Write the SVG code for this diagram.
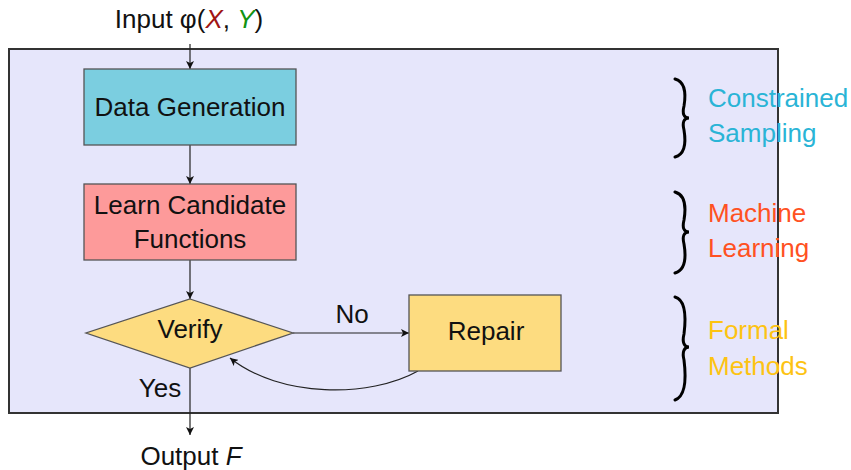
<svg xmlns="http://www.w3.org/2000/svg" width="851" height="470" viewBox="0 0 851 470">
  <style>
    text { font-family: "Liberation Sans", Arial, sans-serif; font-size: 26px; fill: #111; }
    .c { text-anchor: middle; }
    .box { stroke: #555; stroke-width: 1.3; }
    .edge { fill: none; stroke: #222; stroke-width: 1.2; }
    .brace { fill: none; stroke: #000; stroke-width: 3; stroke-linecap: round; }
  </style>
  <defs>
    <marker id="arr" viewBox="0 0 10 10" refX="10" refY="5" markerWidth="8" markerHeight="8" markerUnits="userSpaceOnUse" orient="auto">
      <path d="M0,0 L10,5 L0,10 L2.5,5 Z" fill="#111"/>
    </marker>
  </defs>

  <!-- enclosing frame -->
  <rect x="9" y="49" width="769" height="364" fill="#e6e6fb" stroke="#333" stroke-width="2"/>

  <!-- connectors -->
  <g id="connectors">
    <line class="edge" x1="190" y1="44" x2="190" y2="69" marker-end="url(#arr)"/>
    <line class="edge" x1="190" y1="145" x2="190" y2="184" marker-end="url(#arr)"/>
    <line class="edge" x1="190" y1="260" x2="190" y2="299" marker-end="url(#arr)"/>
    <line class="edge" x1="293" y1="333" x2="409" y2="333" marker-end="url(#arr)"/>
    <path class="edge" d="M418,371 C370,398 280,398 230,358" marker-end="url(#arr)"/>
    <line class="edge" x1="190" y1="368" x2="190" y2="435" marker-end="url(#arr)"/>
    <text class="c" x="352" y="323">No</text>
    <text class="c" x="160" y="397">Yes</text>
  </g>

  <!-- input / output labels -->
  <text class="c" x="189" y="28">Input φ(<tspan font-style="italic" fill="#a01414">X</tspan>, <tspan font-style="italic" fill="#129312">Y</tspan>)</text>
  <text class="c" x="191" y="465">Output <tspan font-style="italic">F</tspan></text>

  <g id="data-generation">
    <rect class="box" x="84" y="69" width="212" height="76" fill="#7bcee0"/>
    <text class="c" x="190" y="116">Data Generation</text>
  </g>

  <g id="learn-candidates">
    <rect class="box" x="84" y="184" width="212" height="76" fill="#fd9a9a"/>
    <text class="c" x="190" y="214">Learn Candidate</text>
    <text class="c" x="190" y="248">Functions</text>
  </g>

  <g id="verify">
    <polygon class="box" points="190,299 293,333 190,368 86,333" fill="#fddc80"/>
    <text class="c" x="190" y="338">Verify</text>
  </g>

  <g id="repair">
    <rect class="box" x="409" y="295" width="152" height="76" fill="#fddc80"/>
    <text class="c" x="486" y="340">Repair</text>
  </g>

  <!-- stage annotations -->
  <g id="constrained-sampling">
    <path class="brace" d="M675,79 C686,82 686,94 684,106 C682,114 684,118 689,118 C684,118 682,122 684,130 C686,142 686,154 675,157"/>
    <text x="708" y="107" style="fill:#2ab4d6">Constrained</text>
    <text x="708" y="142" style="fill:#2ab4d6">Sampling</text>
  </g>

  <g id="machine-learning">
    <path class="brace" d="M675,192 C686,195 686,208 684,220 C682,228 684,232 689,232 C684,232 682,236 684,244 C686,256 686,270 675,273"/>
    <text x="708" y="222" style="fill:#ff5122">Machine</text>
    <text x="708" y="257" style="fill:#ff5122">Learning</text>
  </g>

  <g id="formal-methods">
    <path class="brace" d="M675,297 C686,300 686,318 684,334 C682,342 684,347 689,347 C684,347 682,352 684,360 C686,376 686,396 675,400"/>
    <text x="708" y="339" style="fill:#fdc313">Formal</text>
    <text x="708" y="375" style="fill:#fdc313">Methods</text>
  </g>
</svg>
